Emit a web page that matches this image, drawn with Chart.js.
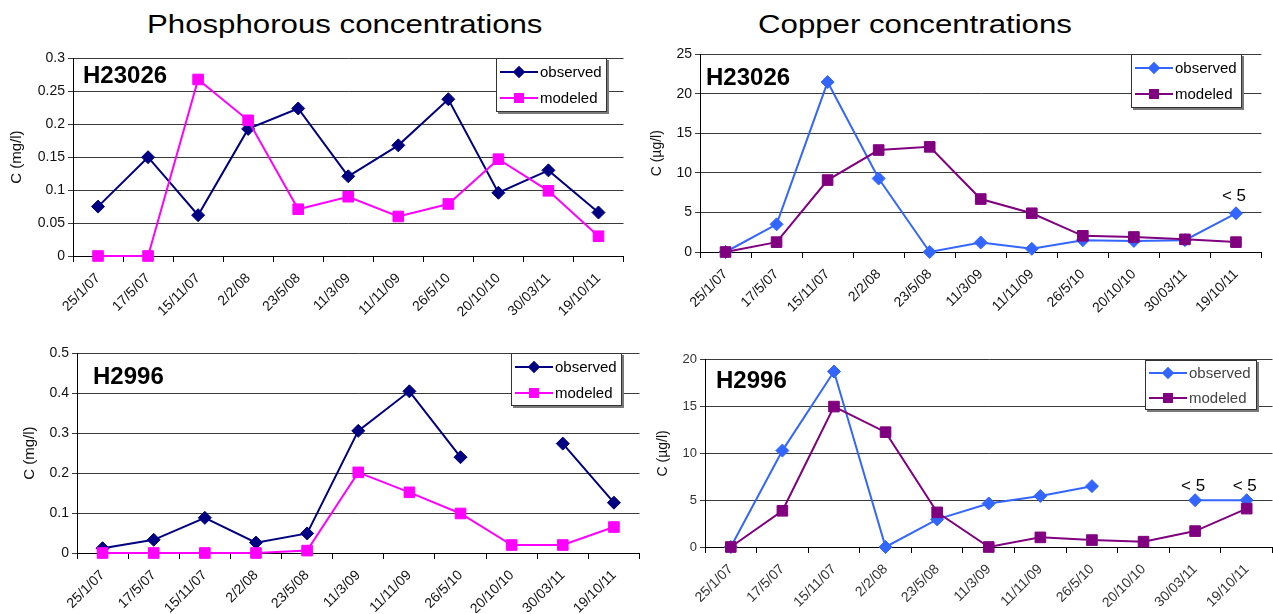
<!DOCTYPE html>
<html>
<head>
<meta charset="utf-8">
<script src="https://cdn.jsdelivr.net/npm/chart.js@4/dist/chart.umd.min.js"></script>
<style>
  html, body { margin:0; padding:0; background:#fff; overflow:hidden; width:1273px; height:614px; }
  body { position:relative; font-family:"Liberation Sans", Arial, sans-serif; }
  canvas { position:absolute; }
  .ttl { position:absolute; top:11px; font-size:26px; line-height:26px; color:#000; white-space:nowrap;
         transform:scaleX(1.2); transform-origin:0 0; }
</style>
</head>
<body>
<div class="ttl" style="left:147px">Phosphorous concentrations</div>
<div class="ttl" style="left:758px">Copper concentrations</div>

<canvas id="p-top"  width="632" height="284" style="left:0;top:47px"></canvas>
<canvas id="cu-top" width="630" height="284" style="left:640px;top:43px"></canvas>
<canvas id="p-bot"  width="648" height="271" style="left:0;top:342px"></canvas>
<canvas id="cu-bot" width="633" height="258" style="left:648px;top:349px"></canvas>

<script>
  // ---- data ----
  const dates = ['25/1/07', '17/5/07', '15/11/07', '2/2/08', '23/5/08', '11/3/09',
                 '11/11/09', '26/5/10', '20/10/10', '30/03/11', '19/10/11'];

  const pH23026Obs = [0.075, 0.15, 0.062, 0.193, 0.224, 0.121, 0.168, 0.238, 0.096, 0.13, 0.066];
  const pH23026Mod = [0, 0, 0.268, 0.206, 0.071, 0.09, 0.06, 0.079, 0.147, 0.099, 0.03];
  const pH2996Obs  = [0.012, 0.033, 0.088, 0.026, 0.049, 0.306, 0.405, 0.24, null, 0.274, 0.126];
  const pH2996Mod  = [0, 0, 0, 0, 0.006, 0.202, 0.152, 0.099, 0.02, 0.02, 0.065];

  const cuH23026Obs = [0, 3.5, 21.5, 9.3, 0, 1.2, 0.4, 1.5, 1.4, 1.5, 4.9];
  const cuH23026Mod = [0, 1.25, 9.1, 12.9, 13.3, 6.7, 4.9, 2.05, 1.9, 1.6, 1.25];
  const cuH2996Obs  = [0, 10.3, 18.75, 0, 2.95, 4.65, 5.45, 6.5, null, 5, 5];
  const cuH2996Mod  = [0, 3.87, 15, 12.27, 3.7, 0, 1.03, 0.74, 0.57, 1.7, 4.1];

  // "< 5" = below detection limit
  const cuH23026Notes = [null, null, null, null, null, null, null, null, null, null, '< 5'];
  const cuH2996Notes  = [null, null, null, null, null, null, null, null, null, '< 5', '< 5'];

  const pTopTicks  = [0, 0.05, 0.1, 0.15, 0.2, 0.25, 0.3];
  const pBotTicks  = [0, 0.1, 0.2, 0.3, 0.4, 0.5];
  const cuTopTicks = [0, 5, 10, 15, 20, 25];
  const cuBotTicks = [0, 5, 10, 15, 20];

  const FONT = '"Liberation Sans", Arial, sans-serif';
  Chart.defaults.font.family = FONT;

  // station name, "< 5" notes and the boxed legend
  const decor = {
    id: 'decor',
    afterDatasetsDraw(chart, args, o) {
      const ctx = chart.ctx, a = chart.chartArea;
      ctx.save();
      ctx.fillStyle = '#000';
      ctx.textBaseline = 'alphabetic';

      ctx.font = 'bold 24px ' + FONT;
      ctx.textAlign = 'left';
      ctx.fillText(o.station, a.left + o.stationDx, a.top + o.stationDy);

      if (o.notes) {
        const meta = chart.getDatasetMeta(0);
        ctx.font = '17px ' + FONT;
        ctx.textAlign = 'center';
        o.notes.forEach((t, i) => {
          if (!t) return;
          const p = meta.data[i];
          ctx.fillText(t, p.x - 2, p.y - o.noteGap);
        });
      }

      // legend box
      const lg = o.legend;
      const x0 = Math.round(a.right - lg.right - lg.w), y0 = Math.round(a.top);
      ctx.fillStyle = '#7a7a7a';
      ctx.fillRect(x0 + 2, y0 + 2, lg.w, lg.h);
      ctx.fillStyle = '#fff';
      ctx.fillRect(x0, y0, lg.w, lg.h);
      ctx.strokeStyle = '#333';
      ctx.lineWidth = 1;
      ctx.strokeRect(x0 + 0.5, y0 + 0.5, lg.w - 1, lg.h - 1);

      chart.data.datasets.forEach((ds, i) => {
        const cy = y0 + lg.row0 + i * lg.gap;
        ctx.strokeStyle = ds.borderColor;
        ctx.lineWidth = 2;
        ctx.beginPath();
        ctx.moveTo(x0 + 4, cy);
        ctx.lineTo(x0 + 42, cy);
        ctx.stroke();
        ctx.fillStyle = ds.backgroundColor;
        Chart.helpers.drawPoint(ctx, {
          pointStyle: ds.pointStyle, radius: ds.pointRadius * 0.75, borderWidth: 1, rotation: 0
        }, x0 + 23, cy);
        ctx.fillStyle = lg.color;
        ctx.font = '15px ' + FONT;
        ctx.textAlign = 'left';
        ctx.textBaseline = 'middle';
        ctx.fillText(ds.label, x0 + 44, cy + 1);
      });
      ctx.restore();
    }
  };

  function makeChart(id, c) {
    return new Chart(document.getElementById(id), {
      type: 'line',
      data: {
        labels: dates,
        datasets: [
          { label: 'observed', data: c.obs, order: 1, clip: false,
            borderColor: c.obsColor, backgroundColor: c.obsColor,
            pointStyle: 'rectRot', pointRadius: 6.5, pointBorderWidth: 1,
            borderWidth: 2, tension: 0, spanGaps: false },
          { label: 'modeled', data: c.mod, order: 0, clip: false,
            borderColor: c.modColor, backgroundColor: c.modColor,
            pointStyle: 'rect', pointRadius: 7.5, pointBorderWidth: 1,
            borderWidth: 2, tension: 0, spanGaps: false },
        ],
      },
      options: {
        responsive: false, animation: false, events: [],
        layout: { padding: { top: 10, right: 3, left: 0, bottom: 0 } },
        plugins: {
          legend: { display: false },
          tooltip: { enabled: false },
          decor: c.decor,
        },
        scales: {
          x: {
            offset: true,
            grid: { offset: true, drawOnChartArea: false, tickLength: 6, color: '#000' },
            border: { color: '#000' },
            ticks: { autoSkip: false, minRotation: 45, maxRotation: 45, color: c.tickColor,
                     font: { size: 14 }, padding: 8 },
            afterFit: s => { s.height = c.xh; },
          },
          y: {
            min: c.ticks[0], max: c.ticks[c.ticks.length - 1],
            grid: { color: '#3a3a3a', tickLength: 5 },
            border: { color: '#000' },
            ticks: { color: c.tickColor, font: { size: c.yFont }, padding: 3, callback: v => String(v) },
            afterBuildTicks: s => { s.ticks = c.ticks.map(v => ({ value: v })); },
            title: { display: true, text: c.yTitle, color: '#111', font: { size: c.titleFont },
                     padding: { top: c.titlePad, bottom: 0 } },
            afterFit: s => { s.width = c.yw; },
          },
        },
      },
      plugins: [decor],
    });
  }

  makeChart('p-top', {
    obs: pH23026Obs, mod: pH23026Mod, obsColor: '#000080', modColor: '#ff00ff',
    ticks: pTopTicks, yTitle: 'C (mg/l)', yw: 73, xh: 75, yFont: 14, titleFont: 15, titlePad: 8,
    tickColor: '#111',
    decor: { station: 'H23026', stationDx: 10, stationDy: 25,
             legend: { w: 111, h: 54, right: 17, row0: 14, gap: 26, color: '#000' } },
  });

  makeChart('cu-top', {
    obs: cuH23026Obs, mod: cuH23026Mod, obsColor: '#3366ff', modColor: '#800080',
    ticks: cuTopTicks, yTitle: 'C (µg/l)', yw: 60, xh: 75, yFont: 14, titleFont: 14, titlePad: 9,
    tickColor: '#111',
    decor: { station: 'H23026', stationDx: 6, stationDy: 31, notes: cuH23026Notes, noteGap: 12,
             legend: { w: 111, h: 54, right: 20, row0: 14, gap: 26, color: '#000' } },
  });

  makeChart('p-bot', {
    obs: pH2996Obs, mod: pH2996Mod, obsColor: '#000080', modColor: '#ff00ff',
    ticks: pBotTicks, yTitle: 'C (mg/l)', yw: 77, xh: 60, yFont: 14, titleFont: 15, titlePad: 21,
    tickColor: '#111',
    decor: { station: 'H2996', stationDx: 16, stationDy: 31,
             legend: { w: 111, h: 53, right: 18, row0: 14, gap: 26, color: '#000' } },
  });

  makeChart('cu-bot', {
    obs: cuH2996Obs, mod: cuH2996Mod, obsColor: '#3366ff', modColor: '#800080',
    ticks: cuBotTicks, yTitle: 'C (µg/l)', yw: 57, xh: 60, yFont: 13, titleFont: 14, titlePad: 7,
    tickColor: '#333',
    decor: { station: 'H2996', stationDx: 11, stationDy: 28, notes: cuH2996Notes, noteGap: 9,
             legend: { w: 112, h: 50, right: 16, row0: 13, gap: 25, color: '#444' } },
  });
</script>
</body>
</html>
